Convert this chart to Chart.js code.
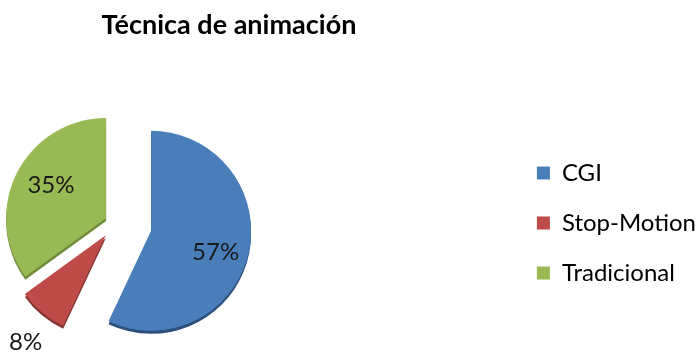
<!DOCTYPE html>
<html lang="es">
<head>
<meta charset="utf-8">
<script src="https://cdn.jsdelivr.net/npm/chart.js@4.4.1/dist/chart.umd.min.js"></script>
<style>
  html, body { margin: 0; padding: 0; background: #fff; }
  body { position: relative; width: 699px; height: 352px; overflow: hidden; }
  #titulo {
    position: absolute; left: 0; top: 8px; width: 458px;
    text-align: center; font: bold 27px/32px Lato, sans-serif; color: #000;
    z-index: 1;
  }
  /* el lienzo sobresale a la izquierda y abajo para dejar la tarta junto al borde */
  #grafico { position: absolute; left: -279px; top: 0; display: block; }
</style>
</head>
<body>
<div id="titulo">Técnica de animación</div>
<canvas id="grafico" width="985" height="396"></canvas>
<script>
// Datos
const categorias = ['CGI', 'Stop-Motion', 'Tradicional'];
const valores = [57, 8, 35];

// Estilo
const colores = ['#4A7EBB', '#BE4B48', '#98B954'];
const coloresLado = ['#2C4F7C', '#843432', '#6E8A3A'];
const separacion = [36, 16, 11];        // px que se separa cada porción del centro
const posEtiqueta = [0.68, 1.34, 0.64]; // distancia de la etiqueta (fracción del radio)
const giroEtiqueta = [0.1, -0.05, 0.06]; // pequeño giro (rad) de la posición de cada etiqueta
const grosor = 3;                       // grosor del canto 3D

// Separa cada porción a lo largo de su ángulo medio
const separarPorciones = {
    id: 'separarPorciones',
    afterDatasetUpdate(chart, args) {
        args.meta.data.forEach((arc, i) => {
            const medio = (arc.startAngle + arc.endAngle) / 2;
            arc.x += Math.cos(medio) * separacion[i];
            arc.y += Math.sin(medio) * separacion[i];
        });
    }
};

// Canto oscuro debajo de cada porción
const canto = {
    id: 'canto',
    beforeDatasetDraw(chart, args) {
        const ctx = chart.ctx;
        args.meta.data.forEach((arc, i) => {
            const {x, y, startAngle, endAngle, outerRadius} = arc.getProps(['x', 'y', 'startAngle', 'endAngle', 'outerRadius'], true);
            ctx.save();
            ctx.fillStyle = coloresLado[i];
            ctx.beginPath();
            ctx.moveTo(x, y + grosor);
            ctx.arc(x, y + grosor, outerRadius, startAngle, endAngle);
            ctx.closePath();
            ctx.fill();
            ctx.restore();
        });
    }
};

// Porcentajes sobre cada porción
const etiquetas = {
    id: 'etiquetas',
    afterDatasetsDraw(chart) {
        const ctx = chart.ctx;
        const total = valores.reduce((a, b) => a + b, 0);
        ctx.save();
        ctx.font = '24px Lato';
        ctx.fillStyle = '#1a1a1a';
        ctx.textAlign = 'center';
        ctx.textBaseline = 'middle';
        chart.getDatasetMeta(0).data.forEach((arc, i) => {
            const medio = (arc.startAngle + arc.endAngle) / 2 + giroEtiqueta[i];
            const r = arc.outerRadius * posEtiqueta[i];
            const texto = Math.round(valores[i] / total * 100) + '%';
            ctx.fillText(texto, arc.x + Math.cos(medio) * r, arc.y + Math.sin(medio) * r);
        });
        ctx.restore();
    }
};

new Chart(document.getElementById('grafico'), {
    type: 'pie',
    data: {
        labels: categorias,
        datasets: [{
            data: valores,
            backgroundColor: colores,
            borderWidth: 0,
            clip: false
        }]
    },
    options: {
        responsive: false,
        animation: false,
        radius: 100,
        layout: {
            padding: { top: 50 }
        },
        plugins: {
            legend: {
                position: 'right',
                fullSize: false,
                labels: {
                    boxWidth: 13,
                    boxHeight: 13,
                    padding: 26,
                    color: '#000',
                    font: { family: 'Lato', size: 24 }
                }
            },
            tooltip: { enabled: false }
        }
    },
    plugins: [separarPorciones, canto, etiquetas]
});
</script>
</body>
</html>
